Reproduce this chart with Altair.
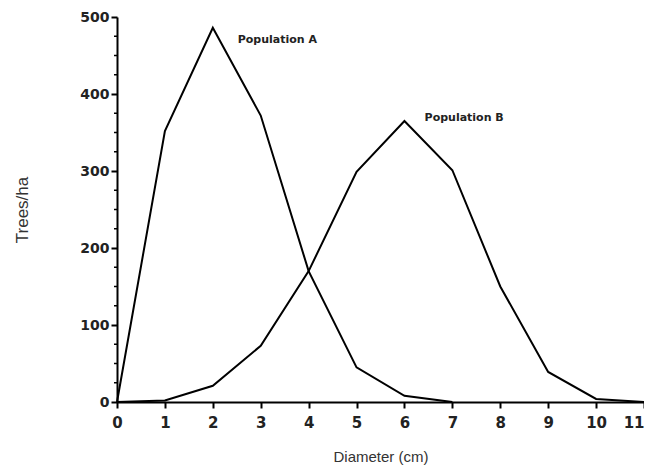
import altair as alt
import pandas as pd

# Population A (diameter classes 0..7 cm)
diam_a = [0, 1, 2, 3, 4, 5, 6, 7]
trees_a = [0, 352, 486, 372, 170, 45, 8, 0]

# Population B (diameter classes 0..11 cm)
diam_b = [0, 1, 2, 3, 4, 5, 6, 7, 8, 9, 10, 11]
trees_b = [0, 2, 21, 73, 170, 299, 365, 301, 150, 39, 4, 0]

# Annotations
label_text = ["Population A", "Population B"]
label_x = [2.52, 6.42]
label_y = [470, 369]

x_ticks = list(range(0, 12))
y_ticks = [0, 100, 200, 300, 400, 500]
y_minor = [25, 50, 75, 125, 150, 175, 225, 250, 275, 325, 350, 375, 425, 450, 475]

df = pd.concat([
    pd.DataFrame({"pop": "A", "d": diam_a, "t": trees_a}),
    pd.DataFrame({"pop": "B", "d": diam_b, "t": trees_b}),
])
lab = pd.DataFrame({"text": label_text, "d": label_x, "t": label_y})
minor = pd.DataFrame({"t": y_minor})

xscale = alt.Scale(domain=[0, 11], nice=False, zero=False)
yscale = alt.Scale(domain=[0, 500], nice=False)

lines = alt.Chart(df).mark_line(color="black", strokeWidth=2, strokeJoin="miter", clip=False).encode(
    x=alt.X("d:Q", scale=xscale, title="Diameter (cm)",
            axis=alt.Axis(values=x_ticks, format="d", tickSize=6, tickWidth=2, labelFlush=False,
                          labelAlign={"condition": {"test": "datum.value === 11", "value": "right"},
                                      "value": "center"},
                          labelFont="DejaVu Sans", labelFontWeight="bold", labelFontSize=15,
                          labelPadding=7, labelColor="#222",
                          titleFont="Liberation Sans", titleFontSize=15, titleFontWeight="normal",
                          titleColor="#333", titlePadding=19)),
    y=alt.Y("t:Q", scale=yscale, title="Trees/ha",
            axis=alt.Axis(values=y_ticks, format="d", tickSize=6, tickWidth=2, labelFlush=False,
                          labelFont="DejaVu Sans", labelFontWeight="bold", labelFontSize=14,
                          labelPadding=2, labelColor="#222",
                          titleFont="Liberation Sans", titleFontSize=17, titleFontWeight="normal",
                          titleColor="#333", titlePadding=48)),
    detail="pop:N",
)

minor_ticks = alt.Chart(minor).mark_rule(color="black", strokeWidth=1.5).encode(
    y=alt.Y("t:Q", scale=yscale),
    x=alt.value(-3),
    x2=alt.value(0),
)

labels = alt.Chart(lab).mark_text(align="left", baseline="middle", font="DejaVu Sans",
                                  fontWeight="bold", fontSize=11, color="#222").encode(
    x=alt.X("d:Q", scale=xscale),
    y=alt.Y("t:Q", scale=yscale),
    text="text:N",
)

chart = alt.layer(lines, minor_ticks, labels).properties(
    width=527, height=385,
    autosize=alt.AutoSizeParams(type="none"),
    padding={"left": 109, "top": 9, "right": 0, "bottom": 65},
    background="white",
).configure_view(stroke=None).configure_axis(
    grid=False, domainColor="black", domainWidth=2, tickColor="black",
)

chart.save("out.html", embed_options={"renderer": "svg", "actions": False})
